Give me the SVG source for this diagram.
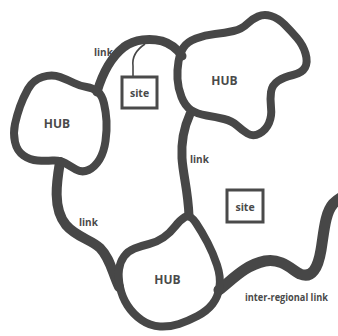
<svg xmlns="http://www.w3.org/2000/svg" width="338" height="336" viewBox="0 0 338 336">
<style>
.hub{fill:none;stroke:#474747;stroke-width:8;stroke-linejoin:round}
.ln{fill:none;stroke:#474747;stroke-linecap:round}
.box{fill:#fff;stroke:#4a4a4a;stroke-width:3}
.t{font-family:"Open Sans","Liberation Sans",sans-serif;font-weight:700;fill:#4a4a4a}
</style>
<rect width="338" height="336" fill="#fff"/>
<g id="connectors">
<path class="ln" stroke-width="9" d="M97,92 C102,75 110,58 124,47 C135,39 150,38 162,41 C172,44 178,50 182,56"/>
<path class="ln" stroke-width="9" d="M190,114 C185,125 181,140 182,158 C183,175 188,190 189,216"/>
<path class="ln" stroke-width="10" d="M60,162 C57,180 52,208 66,225 C76,237 92,240 100,248 C110,258 112,272 119,287"/>
<path class="ln" stroke-width="11" d="M219,290 C232,280 245,265 265,261 C282,258 292,270 300,274 C312,279 318,268 321,250 C324,232 325,213 333,204 C336,201 338,199 342,197"/>
<path fill="none" stroke="#474747" stroke-width="1.6" d="M145,44 C136,50 132,58 133,66 L133,77"/>
<text class="t" x="94" y="56" font-size="10">link</text>
<text class="t" x="190" y="163" font-size="10">link</text>
<text class="t" x="79" y="226" font-size="10">link</text>
<text class="t" x="245" y="301" font-size="10" textLength="83" lengthAdjust="spacingAndGlyphs">inter-regional link</text>
</g>
<g id="hub-left">
<path class="hub" d="M42.5,77 Q52,74 60,77 Q68,80 74,83 Q80,86 86.5,87 Q93,88 97.5,91.5 Q102,95 104,103.5 Q106,112 106.5,121 Q107,130 105.5,141 Q104,152 99.5,159.5 Q95,167 88.5,170 Q82,173 76,169.5 Q70,166 65,163 Q60,160 52.5,160.5 Q45,161 37.5,160.5 Q30,160 23.5,155.5 Q17,151 15,142 Q13,133 15,124 Q17,115 20,106.5 Q23,98 28,89 Q33,80 42.5,77 Z"/>
<text class="t" x="57" y="127.5" font-size="12" text-anchor="middle">HUB</text>
</g>
<g id="hub-topright">
<path class="hub" d="M196,38.5 Q205,35 215,34 Q225,33 233.5,31 Q242,29 247,24 Q252,19 258,16.5 Q264,14 271,16 Q278,18 284.5,24.5 Q291,31 297,38 Q303,45 305.5,53.5 Q308,62 305,67.5 Q302,73 293,75 Q284,77 278,81 Q272,85 271,92 Q270,99 271,107.5 Q272,116 269,123 Q266,130 259.5,133.5 Q253,137 247.5,133.5 Q242,130 237,125.5 Q232,121 224,119 Q216,117 206.5,115.5 Q197,114 191,110 Q185,106 181.5,97 Q178,88 177.5,79 Q177,70 178.5,61.5 Q180,53 183.5,47.5 Q187,42 196,38.5 Z"/>
<text class="t" x="224.5" y="85" font-size="12" text-anchor="middle">HUB</text>
</g>
<g id="hub-bottom">
<path class="hub" d="M196,223 Q202,232 207.5,242.5 Q213,253 217,265 Q221,277 219.5,287 Q218,297 212.5,304 Q207,311 197.5,316 Q188,321 179,324 Q170,327 160,326.5 Q150,326 141.5,320 Q133,314 127.5,305.5 Q122,297 120,287 Q118,277 119,269.5 Q120,262 124,256.5 Q128,251 134.5,248.5 Q141,246 149,244 Q157,242 163.5,237.5 Q170,233 175,226.5 Q180,220 185,217 Q190,214 196,223 Z"/>
<text class="t" x="167.5" y="283.5" font-size="12" text-anchor="middle">HUB</text>
</g>
<g id="site-1">
<rect class="box" x="122" y="77" width="35" height="31"/>
<text class="t" x="139.5" y="97" font-size="10.5" text-anchor="middle">site</text>
</g>
<g id="site-2">
<rect class="box" x="227" y="190" width="36" height="32"/>
<text class="t" x="245" y="210.5" font-size="10.5" text-anchor="middle">site</text>
</g>
</svg>
